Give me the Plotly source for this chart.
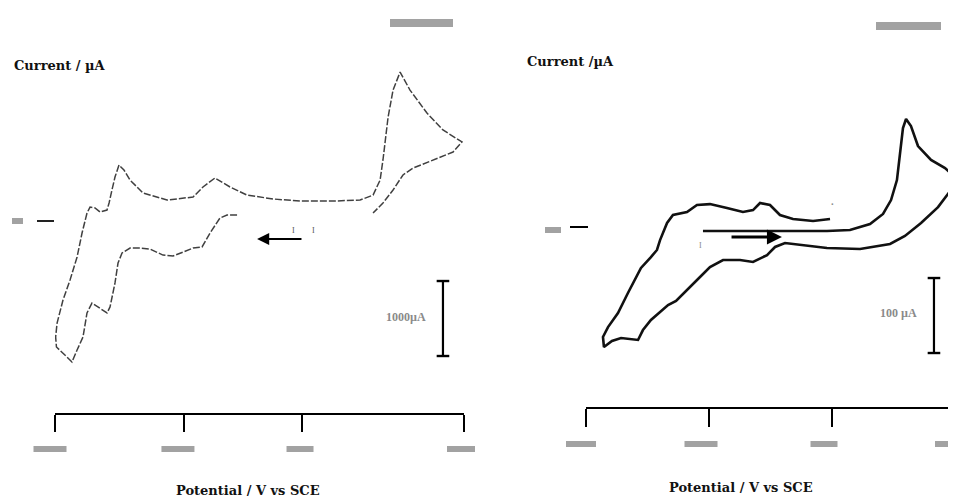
import plotly.graph_objects as go

# ---------------- data (potential in V, current in µA) ----------------
# Left voltammogram (dashed trace)
left_potential = [-0.406, -0.469, -0.513, -0.575, -0.625, -0.681, -0.744, -0.806, -0.869, -0.950,
                  -1.013, -1.075, -1.125, -1.150, -1.169, -1.200, -1.219, -1.281, -1.313, -1.344,
                  -1.369, -1.406, -1.438, -1.469, -1.500, -1.535, -1.540, -1.531, -1.494, -1.450,
                  -1.406, -1.375, -1.344, -1.325, -1.294, -1.263, -1.219, -1.206, -1.188, -1.169,
                  -1.144, -1.113, -1.075, -0.994, -0.844, -0.681, -0.619, -0.544, -0.450, -0.344,
                  -0.181, -0.013, 0.194, 0.363, 0.444, 0.488, 0.506, 0.538, 0.569, 0.613,
                  0.675, 0.781, 0.881, 1.000, 0.944, 0.819, 0.694, 0.631, 0.569, 0.506, 0.444]
left_current = [4.0, 4.0, 2.0, -8.0, -17.3, -18.0, -20.7, -23.3, -22.7, -18.7,
                -18.0, -18.0, -21.3, -28.0, -41.3, -57.3, -61.3, -57.3, -54.7, -61.3,
                -77.3, -86.0, -94.0, -90.7, -87.3, -84.0, -77.3, -68.0, -52.7, -39.3,
                -24.0, -8.0, 5.3, 9.3, 8.7, 6.0, 7.3, 12.0, 20.7, 29.3,
                37.3, 34.0, 27.3, 18.7, 14.0, 16.0, 22.7, 28.7, 22.7, 17.3,
                14.7, 13.3, 13.3, 14.0, 17.3, 27.3, 40.7, 69.3, 87.3, 99.3,
                87.3, 72.0, 60.7, 52.7, 46.0, 40.7, 35.3, 30.7, 20.7, 12.0, 5.3]

# Right voltammogram (solid trace)
right_potential = [-1.049, -0.585, -0.041, 0.146, 0.309, 0.415, 0.480, 0.528, 0.553, 0.577,
                   0.602, 0.642, 0.699, 0.805, 0.919, 1.000, 0.967, 0.862, 0.724, 0.593,
                   0.472, 0.228, -0.041, -0.260, -0.382, -0.463, -0.528, -0.642, -0.748, -0.886,
                   -0.992, -1.073, -1.179, -1.268, -1.333, -1.472, -1.537, -1.577, -1.715, -1.789,
                   -1.854, -1.862, -1.821, -1.740, -1.659, -1.602, -1.553, -1.472, -1.423, -1.398,
                   -1.341, -1.293, -1.179, -1.098, -0.992, -0.854, -0.724, -0.642, -0.585, -0.504,
                   -0.423, -0.317, -0.154, -0.016]
right_current = [-2.7, -2.7, -2.7, -2.0, 2.0, 8.7, 18.0, 31.3, 51.3, 66.0,
                 72.0, 67.3, 54.0, 44.7, 39.3, 33.3, 24.7, 13.3, 2.7, -6.0,
                 -11.3, -14.7, -14.0, -12.0, -10.7, -13.3, -18.7, -23.3, -22.0, -22.0,
                 -26.7, -33.3, -42.0, -49.3, -52.0, -62.0, -68.7, -75.3, -74.0, -76.0,
                 -80.0, -73.3, -66.7, -57.3, -44.0, -35.3, -27.3, -20.0, -15.3, -8.7,
                 2.7, 8.0, 10.0, 14.7, 15.3, 12.7, 10.0, 11.3, 16.0, 14.7,
                 8.0, 5.3, 4.0, 5.3]

left_ticks = [-1.544, -0.738, 0.0, 1.0125]
right_ticks = [-2.0, -1.0, 0.0, 1.0]

left_scale_bar = [-40.0, -90.0]   # 50 µA
left_scale_x = 0.881
right_scale_bar = [-34.0, -84.0]  # 50 µA
right_scale_x = 0.829

y_title = "Current / µA"
y_title_right = "Current /µA"
x_title = "Potential / V vs SCE"

# ---------------- figure ----------------
# the page body has an 8 px margin, so the figure starts at (8, 8) in the window
OFF = 8
W, H = 956 - OFF, 499 - OFF


def px(x):
    return (x - OFF) / W


def py(y):
    return 1 - (y - OFF) / H


left_dom = [px(55), px(464)]
right_dom = [px(586), px(955)]
left_range = [left_ticks[0], left_ticks[-1]]
right_range = [right_ticks[0], right_ticks[-1]]


def to_paper(v, dom, rng):
    return dom[0] + (v - rng[0]) / (rng[1] - rng[0]) * (dom[1] - dom[0])


fig = go.Figure()

fig.add_trace(go.Scatter(x=left_potential, y=left_current, mode="lines",
                         line=dict(color="#404040", width=1.5, dash="7px,2px"),
                         xaxis="x", yaxis="y", showlegend=False, hoverinfo="skip"))
fig.add_trace(go.Scatter(x=right_potential, y=right_current, mode="lines",
                         line=dict(color="#111111", width=2.6),
                         xaxis="x2", yaxis="y2", showlegend=False, hoverinfo="skip"))

# scale bars
for sx, sy, xa, ya in [(left_scale_x, left_scale_bar, "x", "y"),
                       (right_scale_x, right_scale_bar, "x2", "y2")]:
    fig.add_trace(go.Scatter(x=[sx, sx], y=sy, mode="lines+markers",
                             line=dict(color="black", width=2.2),
                             marker=dict(symbol="line-ew", size=9, line=dict(width=2.4, color="black")),
                             xaxis=xa, yaxis=ya, showlegend=False, hoverinfo="skip"))

axis_common = dict(showgrid=False, zeroline=False, showticklabels=False, fixedrange=True)

fig.update_layout(
    width=W, height=H,
    margin=dict(l=0, r=0, t=0, b=0),
    paper_bgcolor="white", plot_bgcolor="white",
    xaxis=dict(domain=left_dom, range=left_range, anchor="y",
               showline=True, linecolor="black", linewidth=2, ticks="outside", ticklen=17,
               tickwidth=2, tickcolor="black", tickvals=left_ticks, **axis_common),
    yaxis=dict(domain=[py(413), py(10)], range=[-128, 140.7], anchor="free", position=px(54),
               showline=False, ticks="outside", ticklen=17, tickwidth=2, tickcolor="#222",
               tickvals=[0], **axis_common),
    xaxis2=dict(domain=right_dom, range=right_range, anchor="y2",
                showline=True, linecolor="black", linewidth=2.4, ticks="outside", ticklen=18,
                tickwidth=2.4, tickcolor="black", tickvals=right_ticks, **axis_common),
    yaxis2=dict(domain=[py(407), py(10)], range=[-120, 144.7], anchor="free", position=px(588),
                showline=False, ticks="outside", ticklen=18, tickwidth=2.4, tickcolor="black",
                tickvals=[0], **axis_common),
)

GREY = "#a2a2a2"
shapes = []
# censored tick labels (grey bars) under each x tick
for tv, off, w in zip(left_ticks, [-5, -6, -2, -3], [33, 33, 27, 28]):
    shapes.append(dict(type="rect", xref="paper", xsizemode="pixel",
                       xanchor=to_paper(tv, left_dom, left_range),
                       x0=off - w / 2, x1=off + w / 2,
                       yref="paper", y0=py(452), y1=py(446),
                       fillcolor=GREY, line=dict(width=0)))
for tv, off, w in zip(right_ticks, [-5, -8, -8, -5], [30, 33, 27, 30]):
    shapes.append(dict(type="rect", xref="paper", xsizemode="pixel",
                       xanchor=to_paper(tv, right_dom, right_range),
                       x0=off - w / 2, x1=off + w / 2,
                       yref="paper", y0=py(447), y1=py(441),
                       fillcolor=GREY, line=dict(width=0)))
# censored zero labels on y
shapes.append(dict(type="rect", xref="paper", x0=px(12), x1=px(23),
                   yref="y", ysizemode="pixel", yanchor=0, y0=-3, y1=3,
                   fillcolor=GREY, line=dict(width=0)))
shapes.append(dict(type="rect", xref="paper", x0=px(545), x1=px(561),
                   yref="y2", ysizemode="pixel", yanchor=0, y0=-6, y1=0,
                   fillcolor=GREY, line=dict(width=0)))
# censored legend bars at top
shapes.append(dict(type="rect", xref="paper", yref="paper", x0=px(390), x1=px(453),
                   y0=py(27), y1=py(19), fillcolor=GREY, line=dict(width=0)))
shapes.append(dict(type="rect", xref="paper", yref="paper", x0=px(876), x1=px(941),
                   y0=py(30), y1=py(22), fillcolor=GREY, line=dict(width=0)))
fig.update_layout(shapes=shapes)

TFONT = dict(family="DejaVu Serif, Liberation Serif, serif", size=13, color="#111")
ann = [
    dict(text="<b>" + y_title + "</b>", xref="paper", yref="paper", x=px(12), y=py(66),
         xanchor="left", yanchor="middle", showarrow=False, font=TFONT),
    dict(text="<b>" + y_title_right + "</b>", xref="paper", yref="paper", x=px(525), y=py(62),
         xanchor="left", yanchor="middle", showarrow=False, font=TFONT),
    dict(text="<b>" + x_title + "</b>", xref="paper", yref="paper", x=px(248), y=py(490),
         xanchor="center", yanchor="middle", showarrow=False, font=TFONT),
    dict(text="<b>" + x_title + "</b>", xref="paper", yref="paper", x=px(741), y=py(487),
         xanchor="center", yanchor="middle", showarrow=False, font=TFONT),
    # scale bar labels
    dict(text="<b>1000µA</b>", xref="x", yref="y", x=0.65, y=-64, showarrow=False,
         font=dict(family="Liberation Serif", size=12, color="#8a8a8a")),
    dict(text="<b>100 µA</b>", xref="x2", yref="y2", x=0.537, y=-57.3, showarrow=False,
         font=dict(family="Liberation Serif", size=12, color="#8a8a8a")),
    # scan direction arrows
    dict(text="", xref="x", yref="y", axref="x", ayref="y", x=-0.281, y=-12, ax=0.006, ay=-12,
         showarrow=True, arrowhead=2, arrowsize=1.1, arrowwidth=2.2, arrowcolor="black"),
    dict(text="", xref="x2", yref="y2", axref="x2", ayref="y2", x=-0.407, y=-6.7, ax=-0.829, ay=-6.7,
         showarrow=True, arrowhead=2, arrowsize=1.0, arrowwidth=3, arrowcolor="black"),
    # small markers near start points
    dict(text="I", xref="x", yref="y", x=-0.056, y=-6, showarrow=False,
         font=dict(family="Liberation Serif", size=8, color="#555")),
    dict(text="I", xref="x", yref="y", x=0.069, y=-6, showarrow=False,
         font=dict(family="Liberation Serif", size=8, color="#555")),
    dict(text="I", xref="x2", yref="y2", x=-1.073, y=-12, showarrow=False,
         font=dict(family="Liberation Serif", size=8, color="#888")),
    dict(text="·", xref="x2", yref="y2", x=0.0, y=15.3, showarrow=False,
         font=dict(family="Liberation Serif", size=14, color="#888")),
]
fig.update_layout(annotations=ann)

fig.write_html("out.html")
